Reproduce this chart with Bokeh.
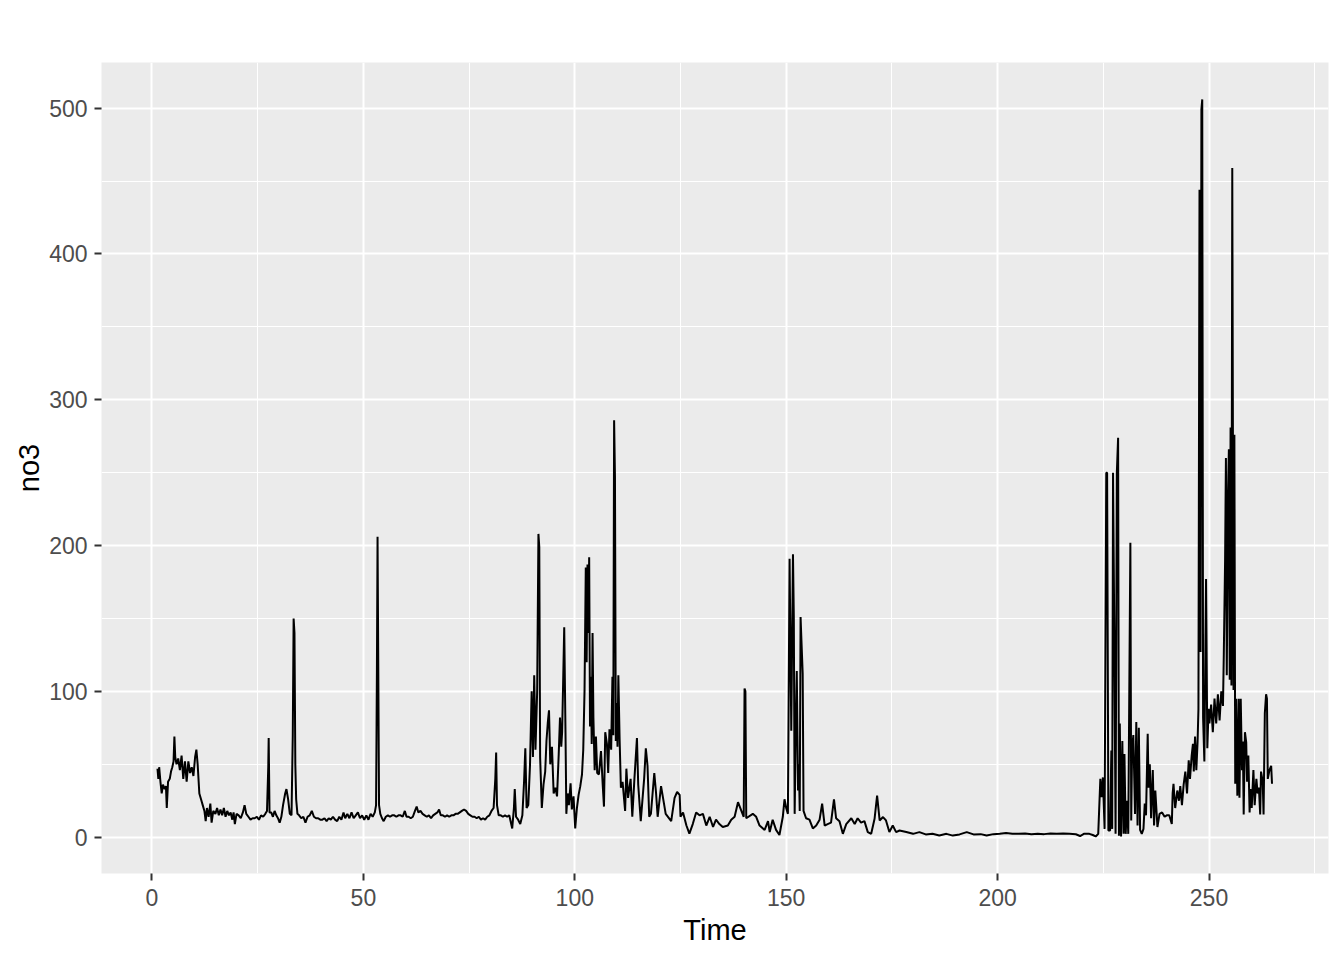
from bokeh.plotting import figure
from bokeh.models import Range1d, FixedTicker
from bokeh.embed import file_html
from bokeh.resources import INLINE

# ---- data ----
time = [
    1.3, 1.5, 1.7, 2.0, 2.3, 2.6, 3.0, 3.3, 3.5, 3.8,
    4.2, 4.5, 4.8, 5.1, 5.3, 5.5, 5.8, 6.2, 6.6, 7.0,
    7.4, 7.8, 8.2, 8.6, 9.0, 9.4, 9.8, 10.2, 10.5, 10.8,
    11.2, 11.6, 12.0, 12.4, 12.7, 13.0, 13.4, 13.8, 14.1, 14.5,
    15.0, 15.4, 15.8, 16.2, 16.6, 17.0, 17.4, 17.8, 18.2, 18.6,
    19.0, 19.3, 19.6, 20.0, 20.5, 21.0, 21.5, 21.9, 22.3, 22.8,
    23.3, 23.8, 24.3, 24.8, 25.3, 25.8, 26.3, 26.8, 27.2, 27.5,
    27.6, 27.8, 28.2, 28.6, 29.0, 29.4, 29.8, 30.2, 30.6, 31.0,
    31.5, 31.8, 32.2, 32.6, 33.0, 33.3, 33.5, 33.7, 33.9, 34.1,
    34.4, 34.8, 35.3, 35.8, 36.3, 36.8, 37.3, 37.8, 38.3, 38.8,
    39.3, 39.8, 40.3, 40.8, 41.3, 41.8, 42.3, 42.8, 43.3, 43.8,
    44.3, 44.8, 45.3, 45.7, 46.2, 46.7, 47.2, 47.7, 48.2, 48.7,
    49.2, 49.7, 50.2, 50.7, 51.2, 51.7, 52.2, 52.7, 53.0, 53.2,
    53.35, 53.5, 53.7, 54.0, 54.4, 54.8, 55.3, 55.8, 56.3, 56.8,
    57.3, 57.8, 58.3, 58.8, 59.3, 59.8, 60.2, 60.7, 61.2, 61.7,
    62.2, 62.6, 63.0, 63.5, 64.0, 64.5, 65.0, 65.5, 66.0, 66.5,
    67.0, 67.5, 67.9, 68.3, 68.8, 69.3, 69.8, 70.3, 70.8, 71.3,
    71.8, 72.3, 72.8, 73.3, 73.8, 74.3, 74.8, 75.3, 75.8, 76.3,
    76.8, 77.3, 77.8, 78.3, 78.8, 79.3, 79.8, 80.3, 80.8, 81.2,
    81.4, 81.6, 82.0, 82.5, 83.0, 83.5, 84.0, 84.5, 85.2, 85.6,
    85.8, 86.1, 86.6, 87.1, 87.6, 88.0, 88.3, 88.6, 89.0, 89.4,
    89.8, 90.1, 90.4, 90.7, 91.1, 91.4, 91.6, 91.8, 92.2, 92.6,
    93.0, 93.3, 93.6, 93.9, 94.2, 94.6, 95.0, 95.4, 95.8, 96.2,
    96.5, 96.8, 97.0, 97.2, 97.5, 97.8, 98.0, 98.3, 98.6, 99.0,
    99.3, 99.7, 100.1, 100.5, 100.9, 101.3, 101.7, 102.0, 102.3, 102.6,
    102.8, 103.0, 103.2, 103.4, 103.6, 103.8, 104.0, 104.2, 104.4, 104.7,
    105.0, 105.3, 105.7, 106.2, 106.6, 106.9, 107.2, 107.6, 107.9, 108.2,
    108.6, 108.9, 109.1, 109.3, 109.5, 109.7, 109.9, 110.1, 110.3, 110.6,
    110.9, 111.3, 111.9, 112.2, 112.6, 113.2, 113.6, 114.1, 114.7, 115.0,
    115.6, 116.4, 116.8, 117.2, 117.6, 118.0, 118.8, 119.2, 119.6, 120.4,
    121.5, 122.8, 123.6, 124.2, 124.8, 125.0, 125.6, 126.4, 127.1, 127.9,
    128.7, 129.5, 130.3, 131.1, 131.9, 132.7, 133.4, 134.2, 135.0, 136.2,
    137.0, 137.8, 138.6, 139.95, 140.15, 140.35, 140.55, 142.1, 142.9, 143.7,
    144.9, 145.7, 146.1, 146.8, 147.6, 148.4, 149.2, 149.6, 150.0, 150.4,
    150.8, 151.2, 151.6, 151.8, 152.0, 152.3, 152.5, 152.8, 153.0, 153.2,
    153.4, 153.6, 153.9, 154.1, 154.7, 155.5, 156.3, 157.1, 157.9, 158.5,
    159.1, 159.8, 160.6, 161.3, 161.8, 162.6, 163.4, 164.2, 165.4, 166.2,
    166.9, 167.7, 168.5, 169.3, 170.1, 170.9, 171.5, 172.1, 172.9, 173.6,
    174.4, 175.2, 176.0, 176.8, 178.4, 180.0, 181.5, 183.0, 184.6, 186.2,
    187.9, 189.4, 191.0, 192.7, 194.3, 196.0, 197.4, 199.0, 200.5, 202.0,
    203.5, 205.0, 206.5, 208.0, 209.5, 211.0, 212.5, 214.0, 215.5, 217.0,
    218.5, 219.5, 220.5, 221.7, 222.5, 223.2, 223.8, 224.3, 224.6, 224.9,
    225.3, 225.7, 225.9, 226.2, 226.6, 226.9, 227.1, 227.3, 227.6, 227.9,
    228.2, 228.5, 228.7, 228.9, 229.2, 229.5, 229.8, 230.0, 230.3, 230.6,
    230.9, 231.4, 231.6, 231.8, 232.1, 232.5, 232.8, 233.1, 233.4, 233.7,
    234.1, 234.5, 234.8, 235.1, 235.5, 235.7, 236.0, 236.3, 236.7, 237.0,
    237.3, 237.8, 238.3, 238.9, 239.5, 240.0, 240.6, 241.2, 241.4, 241.6,
    242.0, 242.5, 242.9, 243.2, 243.6, 244.0, 244.4, 244.8, 245.2, 245.5,
    245.9, 246.2, 246.4, 246.7, 247.0, 247.3, 247.5, 247.75, 248.0, 248.2,
    248.4, 248.6, 248.9, 249.3, 249.6, 249.9, 250.1, 250.5, 250.9, 251.3,
    251.7, 252.1, 252.5, 252.9, 253.3, 253.5, 253.8, 254.0, 254.2, 254.5,
    254.7, 254.9, 255.1, 255.3, 255.5, 255.8, 256.0, 256.2, 256.4, 256.7,
    257.0, 257.2, 257.5, 257.8, 258.0, 258.2, 258.5, 258.8, 259.0, 259.3,
    259.6, 259.8, 260.1, 260.5, 260.8, 261.2, 261.5, 261.8, 262.1, 262.3,
    262.7, 262.9, 263.2, 263.5, 263.7, 263.9, 264.3, 264.7, 264.9,
]

no3 = [
    47, 40, 48, 38, 30, 36, 33, 35, 20, 38,
    40, 45, 48, 52, 69, 55, 50, 54, 46, 56,
    40, 52, 38, 52, 44, 48, 42, 55, 60, 50,
    30, 26, 22, 18, 11, 20, 14, 23, 10, 18,
    16, 20, 15, 19, 15, 20, 14, 18, 15, 17,
    12, 17, 9, 16, 15, 13, 17, 22, 16, 14,
    12, 13, 13, 14, 12, 15, 14, 16, 18, 48,
    68, 17, 17, 14, 18, 15, 13, 10, 14, 22,
    30, 33, 26, 16, 15, 70, 150, 140, 50, 26,
    16, 15, 13, 14, 10, 14, 15, 18, 14, 13,
    13, 12, 12, 13, 11, 13, 12, 14, 12, 11,
    14, 12, 17, 13, 16, 13, 17, 13, 15, 17,
    13, 15, 12, 15, 12, 16, 14, 17, 22, 115,
    206, 128, 22, 16, 13, 11, 14, 15, 14, 15,
    15, 14, 15, 15, 14, 18, 14, 14, 13, 14,
    18, 21, 17, 18, 16, 15, 14, 15, 13, 15,
    16, 17, 19, 15, 15, 14, 15, 14, 15, 15,
    16, 16, 17, 18, 19, 18, 16, 15, 14, 14,
    13, 14, 12, 13, 12, 14, 15, 18, 20, 40,
    58, 22, 15, 15, 14, 15, 14, 15, 6, 20,
    33, 14, 12, 9, 15, 38, 61, 20, 22, 49,
    100, 55, 111, 60, 100, 208, 199, 55, 20, 36,
    45, 66, 78, 87, 50, 62, 30, 34, 28, 57,
    82, 62, 72, 100, 144, 72, 16, 30, 22, 37,
    19, 28, 6, 20, 29, 35, 43, 60, 100, 185,
    120, 187, 140, 192, 76, 110, 64, 140, 82, 46,
    69, 44, 43, 59, 36, 21, 72, 64, 44, 74,
    60, 110, 70, 286, 247, 66, 92, 62, 111, 67,
    34, 38, 18, 47, 27, 40, 14, 40, 68, 36,
    11, 40, 61, 49, 14, 16, 44, 31, 14, 35,
    16, 11, 27, 31, 29, 14, 17, 8, 2.5, 9,
    17, 15, 16, 8, 14, 7, 12, 9, 7, 8,
    12, 14, 24, 14, 102, 100, 13, 16, 14, 8,
    5, 11, 3.5, 12, 5, 1.5, 14, 26, 20, 16,
    191, 73, 194, 151, 16, 82, 114, 32, 50, 18,
    151, 135, 112, 18, 13, 12, 6, 8, 12, 23,
    8, 9, 10, 26, 13, 11, 2.3, 9, 13, 9,
    13, 10, 11, 3.5, 2.3, 12.6, 28.6, 11.5, 13.8, 11.5,
    3.5, 8, 3.5, 4.6, 3.5, 2.3, 3.5, 1.9, 2.3, 1.1,
    2.3, 1.1, 1.9, 3.5, 1.9, 2.1, 1.1, 2.1, 2.3, 2.8,
    2.4, 2.3, 2.6, 2.0, 2.3, 2.1, 2.6, 2.3, 2.5, 2.3,
    2.0, 0.8, 2.4, 2.3, 1.5, 0.5, 2.3, 40, 27.5, 41,
    5.7, 250, 250, 4.6, 4.6, 59.5, 5.7, 250, 139, 2.3,
    250, 274, 1, 78, 0.5, 66, 2.3, 57, 2.3, 25,
    2.3, 202, 11.5, 59.5, 70, 16, 79, 8, 75, 5,
    2.3, 5.7, 23, 15, 71, 34, 50, 13, 46, 8,
    32, 7, 16, 17, 14, 15, 15, 9, 30, 36.6,
    20, 32, 25, 35, 22, 36, 45, 30, 52.7, 40,
    56, 64, 45, 69, 46, 65.7, 88, 444, 127, 499,
    506, 82, 52, 177, 61, 88, 78, 91, 72, 95,
    78, 98, 80, 100, 90, 125.6, 189, 260, 111, 237,
    266, 108, 281, 104, 459, 101, 276, 36.6, 95, 28.5,
    95, 27, 95, 46, 65.7, 15.6, 72, 65, 38, 56,
    17, 33, 20, 46, 22, 40, 30, 34, 15.6, 45,
    38, 15.6, 85, 98, 95, 40, 46, 49, 36.6,
]

x_ticks = [0, 50, 100, 150, 200, 250]
x_minor = [25, 75, 125, 175, 225, 275]
y_ticks = [0, 100, 200, 300, 400, 500]
y_minor = [50, 150, 250, 350, 450]

assert len(time) == len(no3)

FONT = "Liberation Sans"

p = figure(
    output_backend="svg", toolbar_location=None,
    frame_width=1227, frame_height=811,
    min_border_left=101, min_border_right=2,
    min_border_top=62, min_border_bottom=71,
    x_range=Range1d(-11.94, 278.26), y_range=Range1d(-24.9, 531.3),
)
p.background_fill_color = "#EBEBEB"
p.border_fill_color = "white"
p.outline_line_color = None

p.xaxis.ticker = FixedTicker(ticks=x_ticks, minor_ticks=x_minor)
p.yaxis.ticker = FixedTicker(ticks=y_ticks, minor_ticks=y_minor)

for g in (p.xgrid, p.ygrid):
    g.grid_line_color = "white"
    g.grid_line_width = 2
    g.minor_grid_line_color = "white"
    g.minor_grid_line_width = 1

for ax in (p.xaxis, p.yaxis):
    ax.axis_line_color = None
    ax.major_tick_line_color = "#333333"
    ax.major_tick_line_width = 2
    ax.major_tick_out = 7
    ax.major_tick_in = 0
    ax.minor_tick_line_color = None
    ax.major_label_text_font = FONT
    ax.major_label_text_font_size = "23px"
    ax.major_label_text_color = "#4D4D4D"
    ax.axis_label_text_font = FONT
    ax.axis_label_text_font_size = "29px"
    ax.axis_label_text_font_style = "normal"
    ax.axis_label_text_color = "black"

p.xaxis.axis_label = "Time"
p.yaxis.axis_label = "no3"
p.xaxis.major_label_standoff = 8
p.yaxis.major_label_standoff = 7
p.xaxis.axis_label_standoff = 5
p.yaxis.axis_label_standoff = 1

p.line(time, no3, line_color="black", line_width=2)

open("out.html", "w").write(file_html(p, INLINE))
